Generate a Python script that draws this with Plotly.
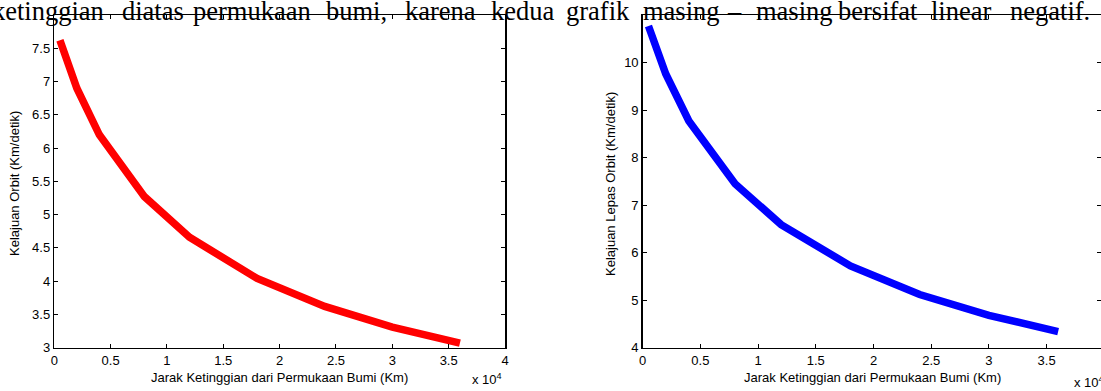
import plotly.graph_objects as go

# ---- data ----
height_km = [500, 2000, 4000, 8000, 12000, 18000, 24000, 30000, 36000]
orbit_speed = [7.62, 6.90, 6.20, 5.27, 4.66, 4.04, 3.62, 3.31, 3.07]
escape_speed = [10.77, 9.76, 8.77, 7.45, 6.59, 5.72, 5.12, 4.68, 4.34]

x_tickvals = [0, 5000, 10000, 15000, 20000, 25000, 30000, 35000, 40000]
x_ticktext = ["0", "0.5", "1", "1.5", "2", "2.5", "3", "3.5", "4"]
y1_tickvals = [3, 3.5, 4, 4.5, 5, 5.5, 6, 6.5, 7, 7.5]
y1_ticktext = ["3", "3.5", "4", "4.5", "5", "5.5", "6", "6.5", "7", "7.5"]
y2_tickvals = [4, 5, 6, 7, 8, 9, 10]
y2_ticktext = ["4", "5", "6", "7", "8", "9", "10"]

xlabel = "Jarak Ketinggian dari Permukaan Bumi (Km)"
ylabel1 = "Kelajuan Orbit (Km/detik)"
ylabel2 = "Kelajuan Lepas Orbit (Km/detik)"
exp_label = "x 10<sup>4</sup>"

top_words = ["ketinggian", "diatas", "permukaan", "bumi,", "karena", "kedua",
             "grafik", "masing", "–", "masing", "bersifat", "linear", "negatif."]
top_word_centers = [48, 153, 252, 356, 440, 523, 598, 681, 734, 794, 878, 961, 1050]

# ---- layout helpers ----
W, H = 1101, 391
def px(x):
    return x / W
def py(y):
    return 1 - y / H

SANS = "Liberation Sans, Arial, Helvetica, sans-serif"
SERIF = "Liberation Serif, Times New Roman, serif"

fig = go.Figure()
fig.add_trace(go.Scatter(x=height_km, y=orbit_speed, mode="lines",
                         line=dict(color="#ff0000", width=7.5),
                         xaxis="x", yaxis="y", showlegend=False, hoverinfo="skip"))
fig.add_trace(go.Scatter(x=height_km, y=escape_speed, mode="lines",
                         line=dict(color="#0000ff", width=7.5),
                         xaxis="x2", yaxis="y2", showlegend=False, hoverinfo="skip"))

axis_common = dict(showline=True, linecolor="black", linewidth=1.5, mirror="ticks",
                   ticks="inside", ticklen=4, tickwidth=1, tickcolor="black",
                   showgrid=False, zeroline=False, automargin=False,
                   tickfont=dict(family=SANS, size=13, color="black"))

y_bottom, y_top = 347.7, 15.0
fig.update_layout(
    width=W, height=H, autosize=False,
    margin=dict(l=0, r=0, t=0, b=0, pad=0, autoexpand=False),
    paper_bgcolor="white", plot_bgcolor="white",
    xaxis=dict(domain=[px(54.3), px(505)], range=[0, 40000], anchor="y",
               tickmode="array", tickvals=x_tickvals, ticktext=x_ticktext, **axis_common),
    yaxis=dict(domain=[py(y_bottom), py(y_top)], range=[3, 8], anchor="x",
               tickmode="array", tickvals=y1_tickvals, ticktext=y1_ticktext, **axis_common),
    xaxis2=dict(domain=[px(642.7), 1.0], range=[0, (W - 642.7) / 115.4 * 10000], anchor="y2",
                tickmode="array", tickvals=x_tickvals, ticktext=x_ticktext, **axis_common),
    yaxis2=dict(domain=[py(y_bottom), py(y_top)], range=[4, 11], anchor="x2",
                tickmode="array", tickvals=y2_tickvals, ticktext=y2_ticktext, **axis_common),
)

annotations = []
lab_font = dict(family=SANS, size=13, color="black")
annotations.append(dict(text=ylabel1, x=px(14), y=py(184), xref="paper", yref="paper",
                        textangle=-90, showarrow=False, font=lab_font,
                        xanchor="center", yanchor="middle"))
annotations.append(dict(text=ylabel2, x=px(610), y=py(184), xref="paper", yref="paper",
                        textangle=-90, showarrow=False, font=lab_font,
                        xanchor="center", yanchor="middle"))
annotations.append(dict(text=xlabel, x=px(279.6), y=py(377), xref="paper", yref="paper",
                        showarrow=False, font=lab_font, xanchor="center", yanchor="middle"))
annotations.append(dict(text=xlabel, x=px(872), y=py(377), xref="paper", yref="paper",
                        showarrow=False, font=lab_font, xanchor="center", yanchor="middle"))
annotations.append(dict(text=exp_label, x=px(470), y=py(379), xref="paper", yref="paper",
                        showarrow=False, font=lab_font, xanchor="left", yanchor="middle"))
annotations.append(dict(text=exp_label, x=px(1072), y=py(382), xref="paper", yref="paper",
                        showarrow=False, font=lab_font, xanchor="left", yanchor="middle"))

for w, cx in zip(top_words, top_word_centers):
    annotations.append(dict(text=w, x=px(cx), y=py(11), xref="paper", yref="paper",
                            showarrow=False, xanchor="center", yanchor="middle",
                            font=dict(family=SERIF, size=26.5, color="black")))

fig.update_layout(annotations=annotations)

fig.write_html("out.html",
               config={"displayModeBar": False, "staticPlot": True},
               post_script="document.body.style.margin='0px';document.body.style.overflow='hidden';")
